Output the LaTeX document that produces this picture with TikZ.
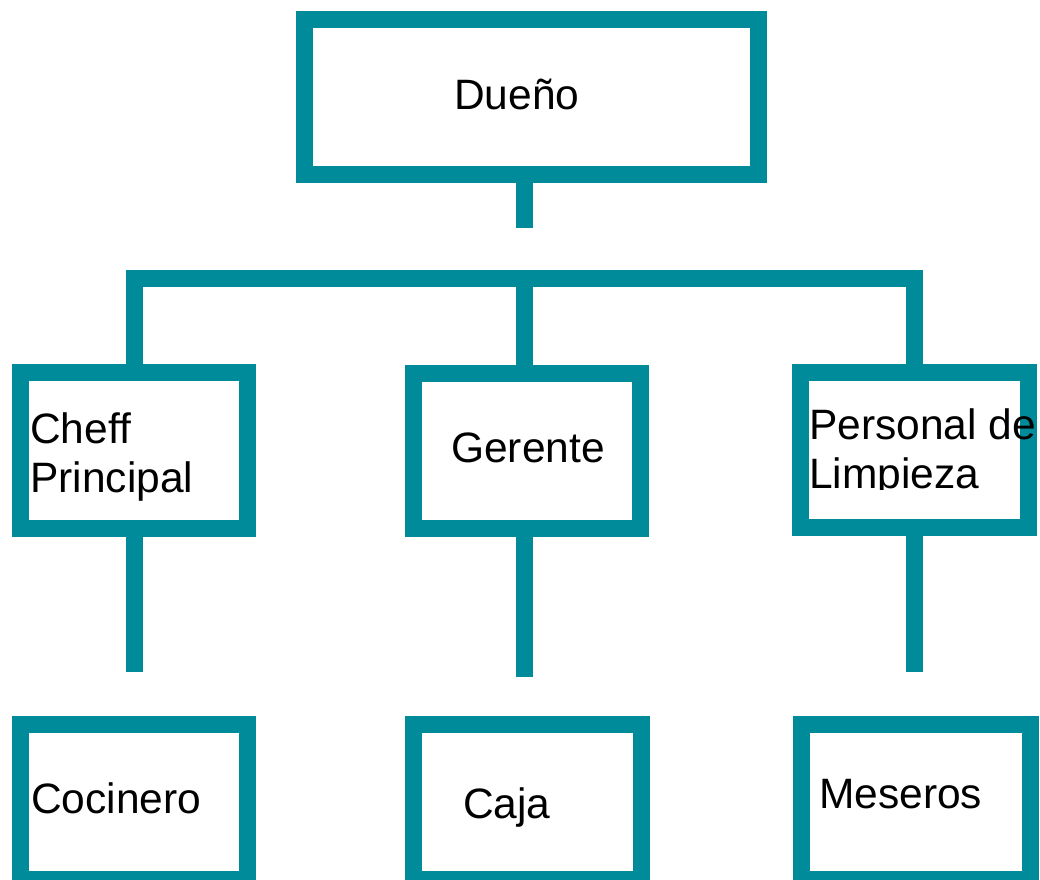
\documentclass[tikz,border=0pt]{standalone}
\usepackage{fontspec}
\setmainfont{Liberation Sans}
\usepackage{xcolor}
\usetikzlibrary{positioning}
\definecolor{orgteal}{RGB}{0,139,155}
\tikzset{
    box/.style={draw=orgteal, line width=17pt, inner sep=0pt,
        minimum width=227pt, minimum height=155pt},
    link/.style={draw=orgteal, line width=17pt, line join=miter},
    lbl/.style={inner sep=0pt, anchor=base west,
        font=\fontsize{42.5}{49}\selectfont}
}
\begin{document}
\begin{tikzpicture}[x=1pt,y=-1pt]
            \clip (0,0) rectangle (1040,879);
            \fill[white] (0,0) rectangle (1040,879);
            % cajas
            \node[box, minimum width=454pt] (Dueno) at (531.5,97) {};
            \node[box, minimum height=156pt] (Cheff) at (134,450.5) {};
            \node[box] (Gerente) at (527,450.5) {};
            \node[box, minimum width=228pt] (Personal) at (914.5,450) {};
            \node[box] (Cocinero) at (134,802) {};
            \node[box, minimum width=228pt] (Caja) at (527.5,802) {};
            \node[box, minimum width=229pt] (Meseros) at (915.5,802) {};
            % conectores
            \coordinate (duenoEnd) at (524,228);
            \coordinate (barR) at (914.5,278.5);
            \coordinate (cheffEnd) at (134,672);
            \coordinate (gerenteEnd) at (524,677);
            \coordinate (personalEnd) at (914.5,672);
            \draw[link] (Dueno.south -| duenoEnd) -- (duenoEnd);
            \draw[link] (Cheff.north) |- (barR) -- (Personal.north);
            \draw[link] (Gerente.north -| duenoEnd) -- (duenoEnd |- barR);
            \draw[link] (Cheff.south) -- (cheffEnd);
            \draw[link] (Gerente.south -| gerenteEnd) -- (gerenteEnd);
            \draw[link] (Personal.south) -- (personalEnd);
            % textos
            \node[lbl] (duenoTxt) at (454,109) {Dueño};
            \node[lbl] (cheffTxt) at (30,443) {\begin{tabular}[t]{@{}l@{}}Cheff\\Principal\end{tabular}};
            \node[lbl] (gerenteTxt) at (451,462) {Gerente};
            \begin{scope}
                \clip (790,360) rectangle (1040,489);
                \node[lbl] (personalTxt) at (809,439) {\begin{tabular}[t]{@{}l@{}}Personal de\\Limpieza\end{tabular}};
            \end{scope}
            \node[lbl] (cocineroTxt) at (31,813) {Cocinero};
            \node[lbl] (cajaTxt) at (463,818) {Caja};
            \node[lbl] (meserosTxt) at (819,808) {Meseros};
        \end{tikzpicture}
\end{document}
